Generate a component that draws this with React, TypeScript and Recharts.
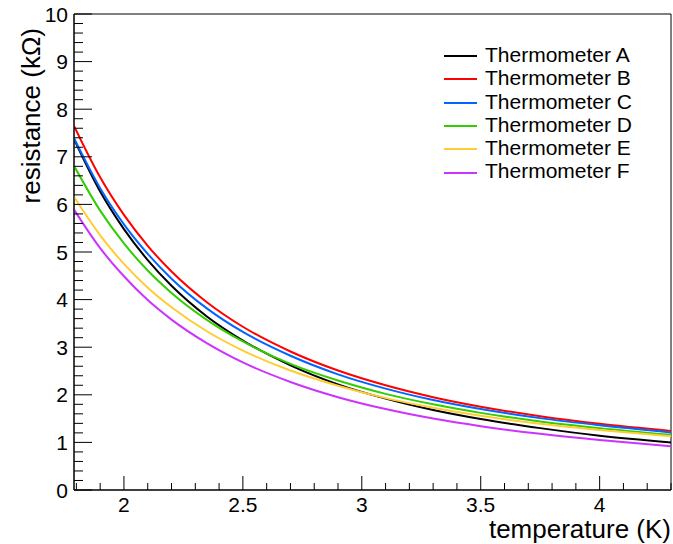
import React from 'react';
import { LineChart, Line, XAxis, YAxis, Legend, ReferenceArea } from 'recharts';

// temperature (K) sample points
const temps = [1.79, 1.9, 2.0, 2.1, 2.2, 2.35, 2.5, 2.7, 2.9, 3.1, 3.3, 3.5, 3.75, 4.0, 4.3];

// resistance (kOhm) per thermometer
const thermA = [7.37, 6.27, 5.48, 4.83, 4.29, 3.64, 3.14, 2.62, 2.22, 1.92, 1.68, 1.49, 1.3, 1.14, 1.0];
const thermB = [7.65, 6.57, 5.78, 5.13, 4.59, 3.94, 3.43, 2.91, 2.51, 2.2, 1.95, 1.75, 1.55, 1.39, 1.24];
const thermC = [7.39, 6.34, 5.58, 4.96, 4.44, 3.81, 3.32, 2.82, 2.43, 2.13, 1.89, 1.7, 1.51, 1.36, 1.21];
const thermD = [6.81, 5.87, 5.18, 4.61, 4.14, 3.57, 3.12, 2.65, 2.3, 2.02, 1.8, 1.62, 1.44, 1.3, 1.16];
const thermE = [6.16, 5.35, 4.75, 4.25, 3.84, 3.33, 2.93, 2.51, 2.19, 1.93, 1.73, 1.56, 1.39, 1.26, 1.13];
const thermF = [5.89, 5.08, 4.49, 3.99, 3.58, 3.08, 2.68, 2.27, 1.95, 1.7, 1.5, 1.34, 1.18, 1.05, 0.92];

const xTicks = [1.8, 1.9, 2.0, 2.1, 2.2, 2.3, 2.4, 2.5, 2.6, 2.7, 2.8, 2.9, 3.0, 3.1, 3.2, 3.3, 3.4, 3.5, 3.6, 3.7, 3.8, 3.9, 4.0, 4.1, 4.2, 4.3];
const yTicks = [0, 0.2, 0.4, 0.6, 0.8, 1, 1.2, 1.4, 1.6, 1.8, 2, 2.2, 2.4, 2.6, 2.8, 3, 3.2, 3.4, 3.6, 3.8, 4, 4.2, 4.4, 4.6, 4.8, 5, 5.2, 5.4, 5.6, 5.8, 6, 6.2, 6.4, 6.6, 6.8, 7, 7.2, 7.4, 7.6, 7.8, 8, 8.2, 8.4, 8.6, 8.8, 9, 9.2, 9.4, 9.6, 9.8, 10];

const series = [
  { key: 'A', name: 'Thermometer A', color: '#000000', values: thermA },
  { key: 'B', name: 'Thermometer B', color: '#ff0000', values: thermB },
  { key: 'C', name: 'Thermometer C', color: '#0066ff', values: thermC },
  { key: 'D', name: 'Thermometer D', color: '#33cc00', values: thermD },
  { key: 'E', name: 'Thermometer E', color: '#ffcc33', values: thermE },
  { key: 'F', name: 'Thermometer F', color: '#cc33ff', values: thermF },
];

const data = temps.map((t, i) => {
  const row: Record<string, number> = { T: t };
  series.forEach((s) => (row[s.key] = s.values[i]));
  return row;
});

const font = '"Liberation Sans", Arial, Helvetica, sans-serif';

const XTick = (props: any) => {
  const { x, y, payload } = props;
  const v = payload.value;
  const major = Math.abs(v * 2 - Math.round(v * 2)) < 1e-6;
  return (
    <g>
      <line x1={x} y1={y} x2={x} y2={y - (major ? 14 : 7)} stroke="#000" />
      {major && (
        <text x={x} y={y + 22} textAnchor="middle" fontSize={21} fontFamily={font} fill="#000">
          {v}
        </text>
      )}
    </g>
  );
};

const YTick = (props: any) => {
  const { x, y, payload } = props;
  const v = payload.value;
  const major = Math.abs(v - Math.round(v)) < 1e-6;
  return (
    <g>
      <line x1={x} y1={y} x2={x + (major ? 18 : 9)} y2={y} stroke="#000" />
      {major && (
        <text x={x - 6} y={y + 7.5} textAnchor="end" fontSize={21} fontFamily={font} fill="#000">
          {v}
        </text>
      )}
    </g>
  );
};

const LegendBox = () => (
  <div style={{ fontFamily: font, fontSize: 21, color: '#000' }}>
    {series.map((s) => (
      <div key={s.key} style={{ display: 'flex', alignItems: 'center', height: 23.3, lineHeight: '23.3px' }}>
        <svg width={41} height={4} style={{ marginTop: 3 }}>
          <line x1={0} x2={33} y1={2} y2={2} stroke={s.color} strokeWidth={2} />
        </svg>
        <span>{s.name}</span>
      </div>
    ))}
  </div>
);

export default function App() {
  return (
    <div style={{ position: 'absolute', left: 0, top: 0, width: 673, height: 544, background: '#fff' }}>
      <LineChart width={673} height={544} data={data} margin={{ top: 14, right: 2, left: 0, bottom: 0 }}>
        <XAxis
          dataKey="T"
          type="number"
          domain={[1.79, 4.3]}
          ticks={xTicks}
          interval={0}
          allowDataOverflow
          height={54}
          tickSize={0}
          tickMargin={0}
          tick={<XTick />}
          axisLine={{ stroke: '#000' }}
        />
        <YAxis
          type="number"
          domain={[0, 10]}
          ticks={yTicks}
          interval={0}
          allowDataOverflow
          width={74}
          tickSize={0}
          tickMargin={0}
          tick={<YTick />}
          axisLine={{ stroke: '#000' }}
        />
        <ReferenceArea x1={1.79} x2={4.3} y1={0} y2={10} fill="none" stroke="#000" strokeWidth={1} />
        {series.map((s) => (
          <Line
            key={s.key}
            dataKey={s.key}
            name={s.name}
            type="monotone"
            stroke={s.color}
            strokeWidth={2}
            dot={false}
            isAnimationActive={false}
          />
        ))}
        <Legend
          layout="vertical"
          align="center"
          verticalAlign="middle"
          wrapperStyle={{ left: 444, top: 43, width: 'auto' }}
          content={<LegendBox />}
        />
        <text x={671} y={538} textAnchor="end" fontSize={26} fontFamily={font} fill="#000">
          temperature (K)
        </text>
        <text
          x={40}
          y={28}
          textAnchor="end"
          fontSize={26}
          fontFamily={font}
          fill="#000"
          transform="rotate(-90, 40, 28)"
        >
          resistance (kΩ)
        </text>
      </LineChart>
    </div>
  );
}
